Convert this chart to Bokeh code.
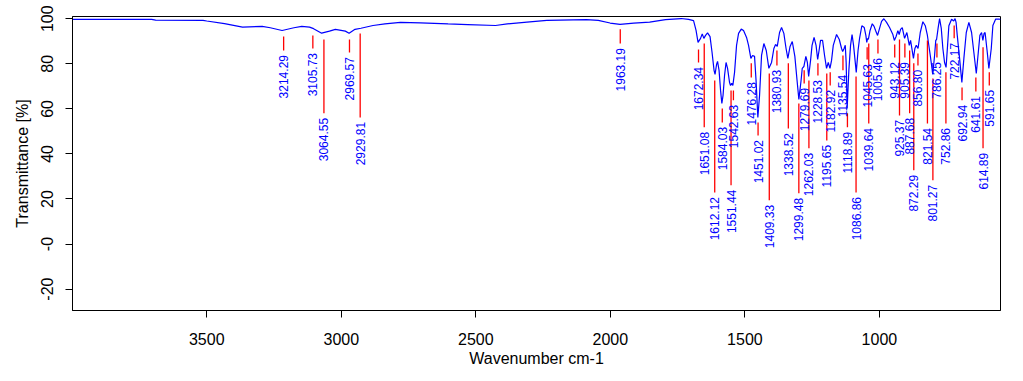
import math
from bokeh.plotting import figure
from bokeh.models import Range1d, FixedTicker, ColumnDataSource
from bokeh.core.properties import value
from bokeh.embed import file_html
from bokeh.resources import INLINE

# ---- spectrum (wavenumber cm-1, transmittance %) ----
wavenumber = [
    3999, 3705, 3690, 3514, 3500, 3434, 3367, 3294, 3264, 3220, 3176, 3147, 3118, 3103,
    3073, 3044, 3022, 2985, 2971, 2949, 2927, 2882, 2838, 2780, 2706, 2603, 2530, 2427,
    2383, 2310, 2236, 2089, 2045, 2001, 1964, 1913, 1854, 1795, 1737, 1709.4,
    1690.8, 1681.5, 1674.1, 1664.8, 1658.5, 1652.5, 1646.2, 1638.8, 1629.5, 1622.0,
    1614.6, 1610.9, 1605.3, 1601.6, 1596.0, 1590.4, 1585.6, 1581.2, 1575.6, 1570.0,
    1564.4, 1557.0, 1553.3, 1548.8, 1544.7, 1538.4, 1531.0, 1523.5, 1513.5, 1505.0,
    1493.8, 1486.4, 1477.8, 1471.5, 1464.1, 1458.5, 1451.8, 1445.5, 1438.1, 1429.5,
    1420.6, 1410.9, 1400.9, 1392.3, 1386.0, 1379.7, 1371.2, 1363.7, 1355.2, 1347.0,
    1340.3, 1332.1, 1323.9, 1314.3, 1306.1, 1299.4, 1291.2, 1286.8, 1280.8, 1273.4,
    1267.8, 1263.0, 1255.9, 1250.4, 1242.9, 1235.5, 1229.5, 1224.3, 1218.8, 1211.3,
    1203.9, 1196.5, 1190.1, 1183.8, 1177.9, 1171.5, 1159.3, 1149.2, 1140.7, 1136.6,
    1131.4, 1126.9, 1123.6, 1119.9, 1113.6, 1107.3, 1101.7, 1096.1, 1086.1, 1079.4,
    1073.8, 1065.3, 1056.3, 1050.4, 1047.0, 1044.1, 1041.1, 1034.8, 1026.6, 1019.9,
    1014.3, 1006.9, 999.5, 992.0, 983.5, 973.4, 962.3, 950.0, 944.5, 938.1,
    931.4, 926.6, 921.4, 915.1, 906.5, 898.0, 889.0, 884.2, 873.5, 868.2,
    863.0, 856.4, 848.2, 838.5, 829.6, 822.2, 811.0, 801.7, 795.0, 790.6,
    787.6, 782.0, 776.4, 770.1, 764.2, 757.9, 752.3, 746.7, 741.9, 731.8,
    724.0, 718.8, 715.1, 710.7, 702.1, 693.6, 686.1, 677.2, 667.5, 657.5,
    649.0, 640.0, 632.6, 626.6, 620.3, 615.5, 611.0, 607.3, 599.1, 593.2,
    584.3, 578.3, 568.3, 557.2, 549.7,
]
transmittance = [
    99.7, 99.7, 99.4, 99.3, 99.0, 97.8, 96.3, 96.6, 96.0, 94.8, 96.0, 96.6, 96.3, 95.6,
    93.6, 94.5, 95.3, 94.5, 93.6, 95.3, 95.8, 97.0, 97.7, 98.4, 98.2, 97.7, 97.4, 97.0,
    97.7, 98.5, 99.3, 99.6, 99.3, 98.1, 97.5, 98.1, 98.5, 99.6, 100.1, 99.7,
    99.2, 94.8, 89.5, 91.3, 93.3, 91.3, 92.6, 93.7, 92.1, 85.0,
    77.1, 75.3, 79.7, 81.1, 77.1, 68.2, 62.4, 66.0, 74.8, 80.6,
    78.0, 71.7, 70.4, 71.3, 70.4, 76.2, 88.2, 93.5, 95.4, 94.8,
    91.7, 88.2, 82.4, 83.7, 83.3, 72.6, 56.2, 66.0, 83.7, 89.0,
    85.9, 78.0, 80.6, 86.8, 88.6, 87.7, 93.9, 96.1, 93.5, 86.8,
    82.4, 87.7, 89.9, 83.3, 72.6, 64.2, 72.6, 78.0, 78.8, 83.3,
    80.6, 74.4, 81.5, 88.2, 91.7, 88.2, 81.9, 85.9, 90.4, 90.4,
    83.7, 78.0, 80.6, 78.0, 81.5, 88.2, 93.0, 90.8, 86.8, 85.5,
    86.8, 88.2, 80.6, 60.2, 77.1, 88.2, 93.0, 88.2, 76.2, 85.9,
    91.3, 96.9, 96.1, 92.6, 89.5, 91.3, 90.8, 94.8, 97.8, 96.6,
    94.8, 92.6, 95.7, 98.8, 100.0, 98.4, 96.1, 93.0, 90.4, 92.1,
    94.7, 93.0, 95.3, 96.1, 91.3, 93.9, 88.2, 90.4, 82.4, 86.8,
    88.2, 86.8, 93.9, 98.7, 96.9, 93.0, 83.7, 75.3, 83.7, 90.4,
    90.8, 95.7, 100.1, 95.7, 86.8, 80.6, 78.4, 88.2, 96.9, 99.8,
    99.0, 100.1, 98.4, 92.6, 82.4, 71.7, 82.4, 93.9, 98.4, 93.9,
    85.0, 75.7, 85.0, 92.6, 93.9, 90.4, 93.5, 93.9, 85.0, 78.0,
    86.8, 97.0, 99.8, 99.9, 99.7,
]

# ---- annotated peaks ----
peak_wn = [
    3214.29, 3105.73, 3064.55, 2969.57, 2929.81, 1963.19, 1672.34, 1651.08, 1612.12,
    1584.03, 1551.44, 1542.63, 1476.28, 1451.02, 1409.33, 1380.93, 1338.52, 1299.48,
    1279.69, 1262.03, 1228.53, 1195.65, 1182.92, 1135.54, 1118.89, 1086.86, 1045.63,
    1039.64, 1005.46, 943.12, 925.37, 905.39, 887.68, 872.29, 856.80, 821.54, 801.27,
    786.25, 752.86, 722.17, 692.94, 641.61, 614.89, 591.65,
]
leader_top = [
    92.1, 92.6, 90.8, 90.8, 93.5, 95.3, 86.3, 89.0, 72.6,
    60.2, 68.2, 68.2, 80.2, 54.0, 75.7, 85.9, 80.2, 62.4,
    77.1, 72.6, 80.2, 75.7, 76.2, 83.7, 58.0, 74.4, 87.3,
    89.0, 90.8, 88.6, 90.8, 89.0, 85.9, 80.2, 84.6, 90.4, 73.5,
    89.0, 76.2, 97.0, 69.5, 73.9, 87.3, 76.2,
]
leader_bottom = [
    85.9, 86.8, 58.0, 85.0, 56.2, 89.0, 80.6, 51.8, 22.9,
    54.0, 26.1, 63.8, 73.9, 48.2, 19.4, 79.3, 51.3, 22.5,
    71.3, 42.5, 74.8, 46.0, 70.4, 77.1, 51.8, 22.9, 81.9,
    53.5, 84.6, 82.8, 57.1, 82.8, 58.0, 32.7, 79.3, 53.5, 28.3,
    82.8, 53.5, 91.3, 63.8, 67.7, 42.5, 70.4,
]
peak_labels = ["%.2f" % w for w in peak_wn]

x_ticks = [3500, 3000, 2500, 2000, 1500, 1000]
y_ticks = [-20, 0, 20, 40, 60, 80, 100]
y_tick_text = {-20: "-20", 0: "-0", 20: "20", 40: "40", 60: "60", 80: "80", 100: "100"}

FONT = "Liberation Sans"

p = figure(width=1015, height=373, output_backend="svg", toolbar_location=None,
           x_range=Range1d(3999, 550), y_range=Range1d(-29.5, 101),
           min_border_left=72, min_border_right=15, min_border_top=16, min_border_bottom=63,
           background_fill_color="white", border_fill_color="white")

p.xgrid.visible = False
p.ygrid.visible = False
p.outline_line_color = "black"
p.outline_line_width = 1
p.outline_line_alpha = 1

for ax in (p.xaxis[0], p.yaxis[0]):
    ax.axis_line_color = "black"
    ax.major_tick_line_color = "black"
    ax.major_tick_in = 0
    ax.major_tick_out = 7
    ax.minor_tick_line_color = None
    ax.major_label_text_font = FONT
    ax.major_label_text_font_size = "16px"
    ax.major_label_text_color = "black"
    ax.axis_label_text_font = FONT
    ax.axis_label_text_font_size = "16px"
    ax.axis_label_text_font_style = "normal"
    ax.axis_label_text_color = "black"

p.xaxis.ticker = FixedTicker(ticks=x_ticks)
p.yaxis.ticker = FixedTicker(ticks=y_ticks)
p.yaxis.major_label_overrides = y_tick_text
p.yaxis.major_label_orientation = "parallel"
p.xaxis.axis_label = "Wavenumber cm-1"
p.yaxis.axis_label = "Transmittance [%]"
p.xaxis.major_label_standoff = 15
p.xaxis.axis_label_standoff = 2
p.yaxis.major_label_standoff = 12
p.yaxis.axis_label_standoff = 8

p.line(wavenumber, transmittance, line_color="#0000FF", line_width=1.2)

src = ColumnDataSource(dict(
    x=peak_wn, top=leader_top, bottom=leader_bottom,
    label_y=[b - 2.0 for b in leader_bottom], text=peak_labels,
))
p.segment(x0="x", y0="top", x1="x", y1="bottom", source=src,
          line_color="#FF0000", line_width=1.3)
p.text(x="x", y="label_y", text="text", source=src, angle=math.pi / 2,
       text_align="right", text_baseline="middle", text_color="#0000FF",
       text_font=value(FONT), text_font_size="12px")

open("out.html", "w").write(file_html(p, INLINE))
